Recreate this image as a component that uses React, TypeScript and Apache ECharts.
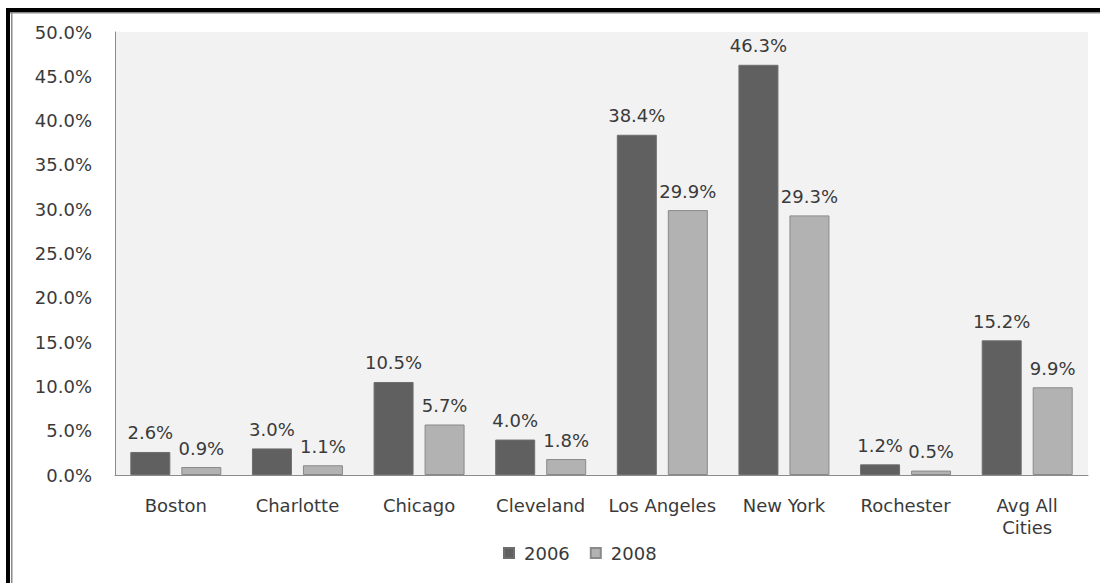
import React, { useEffect, useRef } from "react";
import * as echarts from "echarts";

const categories = ["Boston", "Charlotte", "Chicago", "Cleveland", "Los Angeles", "New York", "Rochester", "Avg All\nCities"];
const series2006 = [2.6, 3.0, 10.5, 4.0, 38.4, 46.3, 1.2, 15.2];
const series2008 = [0.9, 1.1, 5.7, 1.8, 29.9, 29.3, 0.5, 9.9];
const seriesNames = ["2006", "2008"];

const FONT = "DejaVu Sans";
const TEXT = "#3a3a3a";

export default function App() {
  const ref = useRef<HTMLDivElement>(null);
  useEffect(() => {
    if (!ref.current) return;
    const chart = echarts.init(ref.current, null, { renderer: "svg" });
    const fmt = (v: number) => `${v.toFixed(1)}%`;
    chart.setOption({
      animation: false,
      backgroundColor: "#ffffff",
      textStyle: { fontFamily: FONT },
      grid: { left: 115, right: 12, top: 32, bottom: 108, containLabel: false, show: true, backgroundColor: "#f2f2f2", borderWidth: 0 },
      legend: {
        left: 498,
        top: 539,
        icon: "rect",
        itemWidth: 10,
        itemHeight: 10,
        itemGap: 20,
        data: seriesNames,
        textStyle: { fontFamily: FONT, fontSize: 18, color: TEXT, padding: [0, 0, 0, 5] },
      },
      xAxis: {
        type: "category",
        data: categories,
        axisLine: { show: true, lineStyle: { color: "#8c8c8c", width: 1 } },
        axisTick: { show: false },
        axisLabel: { color: TEXT, fontFamily: FONT, fontSize: 18, margin: 19, lineHeight: 22, interval: 0 },
      },
      yAxis: {
        type: "value",
        min: 0,
        max: 50,
        interval: 5,
        axisLine: { show: true, lineStyle: { color: "#8c8c8c", width: 1 } },
        axisTick: { show: false },
        splitLine: { show: false },
        axisLabel: { color: TEXT, fontFamily: FONT, fontSize: 18, margin: 23, formatter: (v: number) => fmt(v) },
      },
      series: [
        {
          name: seriesNames[0],
          type: "bar",
          data: series2006,
          barWidth: 40,
          barGap: "27.5%",
          itemStyle: { color: "#606060", borderColor: "#6e6e6e", borderWidth: 1 },
          label: { show: true, position: "top", distance: 10, color: TEXT, fontFamily: FONT, fontSize: 18, formatter: (p: any) => fmt(p.value) },
        },
        {
          name: seriesNames[1],
          type: "bar",
          data: series2008,
          barWidth: 40,
          barGap: "27.5%",
          itemStyle: { color: "#b2b2b2", borderColor: "#8a8a8a", borderWidth: 1 },
          label: { show: true, position: "top", distance: 10, color: TEXT, fontFamily: FONT, fontSize: 18, formatter: (p: any) => fmt(p.value) },
        },
      ],
      graphic: [
        { type: "rect", shape: { x: 6, y: 8, width: 1094, height: 4 }, style: { fill: "#000000" }, z: 100 },
        { type: "rect", shape: { x: 10, y: 12, width: 1090, height: 1.5 }, style: { fill: "#8a8a8a" }, z: 100 },
        { type: "rect", shape: { x: 6, y: 8, width: 4, height: 575 }, style: { fill: "#000000" }, z: 100 },
        { type: "rect", shape: { x: 11, y: 12, width: 1.5, height: 571 }, style: { fill: "#8a8a8a" }, z: 100 },
      ],
    });
    return () => chart.dispose();
  }, []);
  return <div ref={ref} style={{ position: "fixed", left: 0, top: 0, width: 1100, height: 583 }} />;
}
